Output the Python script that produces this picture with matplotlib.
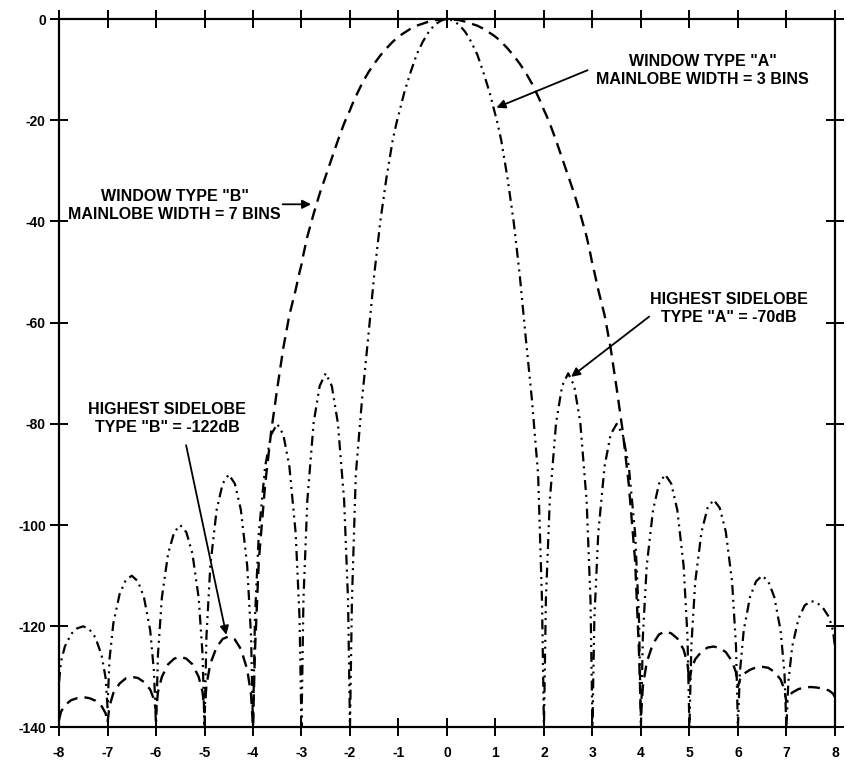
import numpy as np
import matplotlib
matplotlib.use('Agg')
import matplotlib.pyplot as plt

plt.rcParams["font.family"] = ["Liberation Sans", "DejaVu Sans"]
plt.rcParams["font.weight"] = "bold"

# Sample positions inside each frequency bin (bins -8..7), plus the last edge at +8
bin_starts = list(range(-8, 8))
bin_offsets = [0, 0.04, 0.12, 0.25, 0.375, 0.5, 0.625, 0.75, 0.88, 0.96]

# Window type "A" response (dB), one row per bin
window_a_db = [
    [-131, -127.0, -124.0, -121.5, -120.4, -120, -120.6, -122.2, -125.8, -130.2],   # -8
    [-136, -126.6, -119.4, -113.6, -110.9, -110, -111.1, -114.2, -120.8, -129.2],   # -7
    [-140, -125.6, -114.4, -105.6, -101.4, -100, -101.4, -105.6, -114.4, -125.6],   # -6
    [-140, -122.0, -108.0, -97.0, -91.8, -90, -91.8, -97.0, -108.0, -122.0],        # -5
    [-140, -118.4, -101.6, -88.4, -82.1, -80, -82.1, -88.4, -101.6, -118.4],        # -4
    [-140, -114.8, -95.2, -79.8, -72.5, -70, -72.5, -79.8, -95.2, -114.8],          # -3
    [-140, -115, -90, -75, -63, -50.5, -40, -31.5, -24, -20.5],                     # -2
    [-19, -17.5, -14.5, -10.5, -7, -4.5, -2.5, -1.1, -0.3, 0],                      # -1
    [0, 0, -0.3, -1.1, -2.5, -4.5, -7, -10.5, -14.5, -17.5],                        # 0
    [-19, -20.5, -24, -31.5, -40, -50.5, -63, -75, -90, -115],                      # 1
    [-140, -114.8, -95.2, -79.8, -72.5, -70, -72.5, -79.8, -95.2, -114.8],          # 2
    [-140, -118.4, -101.6, -88.4, -82.1, -80, -82.1, -88.4, -101.6, -118.4],        # 3
    [-140, -122.0, -108.0, -97.0, -91.8, -90, -91.8, -97.0, -108.0, -122.0],        # 4
    [-140, -123.8, -111.2, -101.3, -96.6, -95, -96.6, -101.3, -111.2, -123.8],      # 5
    [-140, -129.2, -120.8, -114.2, -111.1, -110, -111.1, -114.2, -120.8, -129.2],   # 6
    [-140, -131.0, -124.0, -118.5, -115.9, -115, -115.3, -116.3, -118.2, -120.8],   # 7
]
window_a_end = -124

# Window type "B" response (dB), one row per bin
window_b_db = [
    [-138.5, -136.9, -135.6, -134.6, -134.2, -134, -134.2, -134.7, -135.8, -137.2],  # -8
    [-139, -135.8, -133.2, -131.3, -130.3, -130, -130.2, -131.0, -132.5, -134.5],    # -7
    [-137, -133.0, -130.0, -127.5, -126.4, -126, -126.4, -127.5, -130.0, -133.0],    # -6
    [-137, -131.6, -127.4, -124.1, -122.5, -122, -122.6, -124.5, -128.5, -133.5],    # -5
    [-140, -125, -107, -92, -81.5, -73, -65, -58.5, -53.5, -50],                     # -4
    [-48.5, -46.5, -43, -38.5, -34.5, -31, -27.5, -24, -20.6, -18.8],                # -3
    [-18, -17, -15.3, -12.7, -10.6, -8.8, -7.2, -5.8, -4.5, -3.8],                   # -2
    [-3.5, -3.2, -2.7, -1.9, -1.3, -0.9, -0.5, -0.2, -0.1, 0],                       # -1
    [0, 0, -0.1, -0.2, -0.5, -0.9, -1.3, -1.9, -2.7, -3.2],                          # 0
    [-3.5, -3.8, -4.5, -5.8, -7.2, -8.8, -10.6, -12.7, -15.3, -17],                  # 1
    [-18, -18.8, -20.6, -24, -27.5, -31, -34.5, -38.5, -43, -46.5],                  # 2
    [-48.5, -50, -53.5, -58.5, -65, -73, -81.5, -92, -107, -125],                    # 3
    [-138, -131.9, -127.1, -123.4, -121.6, -121, -121.4, -122.4, -124.6, -127.4],    # 4
    [-131, -128.5, -126.5, -125.0, -124.2, -124, -124.3, -125.1, -126.9, -129.1],    # 5
    [-132, -130.6, -129.4, -128.6, -128.1, -128, -128.2, -129.0, -130.5, -132.5],    # 6
    [-135, -133.9, -133.1, -132.4, -132.1, -132, -132.1, -132.3, -132.7, -133.3],    # 7
]
window_b_end = -134

x_ticks = list(range(-8, 9))
y_ticks = [0, -20, -40, -60, -80, -100, -120, -140]

freq = np.concatenate([np.array(bin_offsets) + k for k in bin_starts] + [[8]])
resp_a = np.concatenate([np.ravel(window_a_db), [window_a_end]])
resp_b = np.concatenate([np.ravel(window_b_db), [window_b_end]])

fig = plt.figure(figsize=(8.47, 7.70), dpi=100)
ax = fig.add_axes([0.0697, 0.0552, 0.916, 0.920])

ax.plot(freq, resp_b, color="black", linewidth=1.7, linestyle=(0, (5, 3)))
ax.plot(freq, resp_a, color="black", linewidth=1.6,
        linestyle=(0, (4.5, 2.2, 0.9, 2.2, 0.9, 2.2)))

ax.set_xlim(-8, 8)
ax.set_ylim(-140, 0)
ax.set_xticks(x_ticks)
ax.set_yticks(y_ticks)
ax.set_xticklabels([str(t) for t in x_ticks])
ax.set_yticklabels([str(t) for t in y_ticks])

for side in ["left", "right", "top", "bottom"]:
    ax.spines[side].set_linewidth(1.6)
ax.tick_params(direction="inout", length=13, width=1.4, labelsize=10,
               top=True, right=True, labeltop=False, labelright=False)
ax.tick_params(axis="x", pad=7)
ax.tick_params(axis="y", pad=3)

arrow = dict(arrowstyle="-|>", color="black", lw=1.3, mutation_scale=13,
             shrinkA=0, shrinkB=0)
txt = dict(fontsize=11.5, fontweight="bold", ha="center", va="center",
           linespacing=1.25)

ax.annotate("", xy=(1.02, -17.5), xytext=(2.90, -10.1), arrowprops=arrow)
ax.text(5.27, -10.1, 'WINDOW TYPE "A"\nMAINLOBE WIDTH = 3 BINS', **txt)

ax.annotate("", xy=(-2.80, -36.6), xytext=(-3.39, -36.6), arrowprops=arrow)
ax.text(-5.62, -36.8, 'WINDOW TYPE "B"\nMAINLOBE WIDTH = 7 BINS', **txt)

ax.annotate("", xy=(2.56, -70.7), xytext=(4.17, -58.8), arrowprops=arrow)
ax.text(5.82, -57.1, 'HIGHEST SIDELOBE\nTYPE "A" = -70dB', **txt)

ax.annotate("", xy=(-4.55, -121.7), xytext=(-5.38, -84.2), arrowprops=arrow)
ax.text(-5.77, -78.9, 'HIGHEST SIDELOBE\nTYPE "B" = -122dB', **txt)

fig.savefig("out.png", dpi=100)
plt.close(fig)
